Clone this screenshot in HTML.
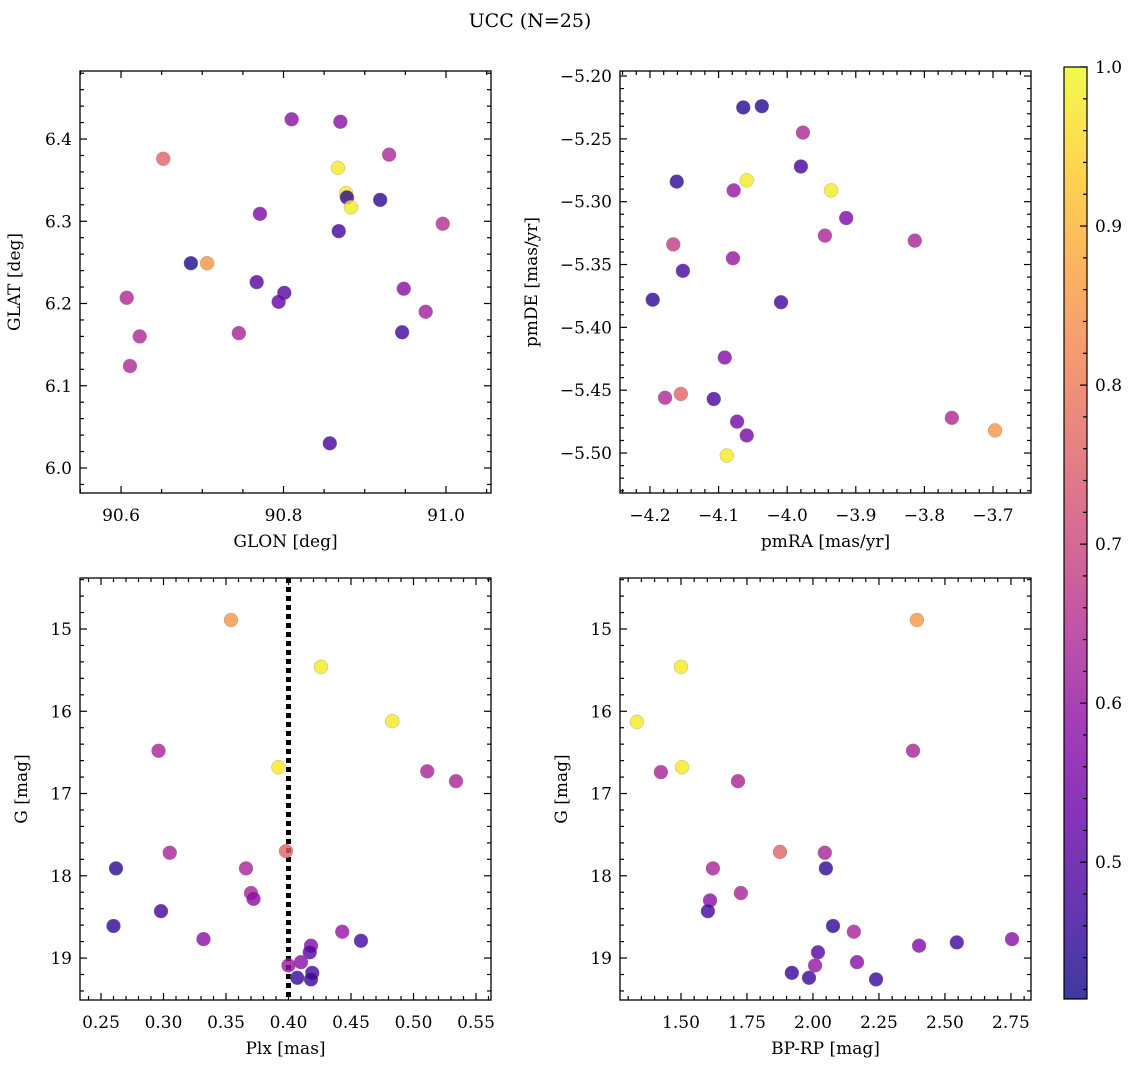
<!DOCTYPE html>
<html><head><meta charset="utf-8"><style>
body{margin:0;background:#fff;}
svg text{font-family:"DejaVu Serif","Liberation Serif",serif;fill:#000;}
</style></head><body>
<svg id="fig" width="1136" height="1067" xmlns="http://www.w3.org/2000/svg">
<defs>
<linearGradient id="plasma" x1="0" y1="1" x2="0" y2="0">
<stop offset="0" stop-color="#0d0887"/><stop offset="0.1" stop-color="#41049d"/><stop offset="0.2" stop-color="#6a00a8"/><stop offset="0.3" stop-color="#8f0da4"/><stop offset="0.4" stop-color="#b12a90"/><stop offset="0.5" stop-color="#cc4778"/><stop offset="0.6" stop-color="#e16462"/><stop offset="0.7" stop-color="#f2844b"/><stop offset="0.8" stop-color="#fca636"/><stop offset="0.9" stop-color="#fcce25"/><stop offset="1" stop-color="#f0f921"/>
</linearGradient>
</defs>
<text x="530" y="27" font-size="19" text-anchor="middle">UCC (N=25)</text>
</svg>
<script>
// Panel 1: GLON vs GLAT
const glon=[90.652,90.706,90.810,90.870,90.930,90.867,90.877,90.878,90.883,90.919,90.771,90.996,90.686,90.868,90.767,90.801,90.794,90.607,90.623,90.611,90.745,90.948,90.975,90.946,90.857];
const glat=[6.376,6.249,6.424,6.421,6.381,6.365,6.334,6.329,6.317,6.326,6.309,6.297,6.249,6.288,6.226,6.213,6.202,6.207,6.160,6.124,6.164,6.218,6.190,6.165,6.030];
const prob1=[0.76,0.85,0.58,0.58,0.64,0.98,0.98,0.45,0.98,0.45,0.56,0.65,0.43,0.48,0.5,0.5,0.53,0.64,0.64,0.64,0.63,0.58,0.62,0.47,0.48];
// Panel 2: pmRA vs pmDE
const pmra=[-4.064,-4.037,-3.977,-3.980,-4.161,-4.059,-3.936,-4.078,-3.914,-3.945,-4.166,-3.814,-4.152,-4.079,-4.196,-4.009,-4.091,-4.178,-4.155,-4.107,-4.073,-3.760,-3.697,-4.059,-4.088];
const pmde=[-5.225,-5.224,-5.245,-5.272,-5.284,-5.283,-5.291,-5.291,-5.313,-5.327,-5.334,-5.331,-5.355,-5.345,-5.378,-5.380,-5.424,-5.456,-5.453,-5.457,-5.475,-5.472,-5.482,-5.486,-5.502];
const prob2=[0.44,0.44,0.64,0.48,0.45,0.98,0.98,0.6,0.56,0.63,0.68,0.63,0.48,0.6,0.45,0.47,0.57,0.64,0.76,0.48,0.55,0.64,0.85,0.55,0.98];
// Panel 3: Plx vs G
const plx=[0.354,0.426,0.483,0.392,0.296,0.511,0.534,0.398,0.305,0.262,0.366,0.370,0.372,0.298,0.332,0.260,0.443,0.458,0.418,0.417,0.410,0.419,0.400,0.407,0.418];
const gmag3=[14.89,15.46,16.12,16.68,16.48,16.73,16.85,17.70,17.72,17.91,17.91,18.21,18.28,18.43,18.77,18.61,18.68,18.79,18.85,18.93,19.05,19.18,19.09,19.24,19.26];
const prob3=[0.85,0.98,0.98,0.98,0.63,0.63,0.63,0.76,0.63,0.45,0.63,0.63,0.58,0.48,0.58,0.45,0.6,0.47,0.57,0.5,0.58,0.48,0.6,0.46,0.46];
const plxCut=0.4;
// Panel 4: BP-RP vs G
const bprp=[2.394,1.500,1.333,1.504,1.424,1.716,2.379,1.875,2.045,2.049,1.621,1.727,1.610,1.602,2.155,2.076,2.754,2.545,2.402,2.019,2.167,2.008,1.920,1.985,2.239];
const gmag4=[14.89,15.46,16.13,16.68,16.74,16.85,16.48,17.71,17.72,17.91,17.91,18.21,18.30,18.43,18.68,18.61,18.77,18.81,18.85,18.93,19.05,19.09,19.18,19.24,19.26];
const prob4=[0.85,0.98,0.98,0.98,0.63,0.63,0.63,0.76,0.63,0.45,0.63,0.63,0.58,0.48,0.63,0.45,0.58,0.47,0.57,0.5,0.58,0.6,0.46,0.46,0.46];
const cbTicks=[0.5,0.6,0.7,0.8,0.9,1.0];

const NS='http://www.w3.org/2000/svg';
const svg=document.getElementById('fig');
function el(tag,attrs,parent){const e=document.createElementNS(NS,tag);for(const k in attrs)e.setAttribute(k,attrs[k]);(parent||svg).appendChild(e);return e;}
const stops=[[0,[13,8,135]],[0.1,[65,4,157]],[0.2,[106,0,168]],[0.3,[143,13,164]],[0.4,[177,42,144]],[0.5,[204,71,120]],[0.6,[225,100,98]],[0.7,[242,132,75]],[0.8,[252,166,54]],[0.9,[252,206,37]],[1,[240,249,33]]];
const CMIN=0.414,CMAX=1.0;
function cmap(v){let t=(v-CMIN)/(CMAX-CMIN);t=Math.max(0,Math.min(1,t));for(let i=0;i<stops.length-1;i++){const a=stops[i],b=stops[i+1];if(t<=b[0]){const f=(t-a[0])/(b[0]-a[0]);return 'rgb('+a[1].map((c,j)=>Math.round(c+(b[1][j]-c)*f)).join(',')+')';}}return 'rgb(240,249,33)';}
function fmt(v,d){return (v<0?'\u2212':'')+Math.abs(v).toFixed(d);}

function panel(o){
 const g=el('g',{});
 
 
 const sx=v=>o.x0+(v-o.xmin)/(o.xmax-o.xmin)*(o.x1-o.x0);
 const sy=o.yinv?(v=>o.y0+(v-o.ymin)/(o.ymax-o.ymin)*(o.y1-o.y0)):(v=>o.y1-(v-o.ymin)/(o.ymax-o.ymin)*(o.y1-o.y0));
 const eps=1e-9;
 for(let k=Math.ceil(o.xmin/o.xminor-eps);k*o.xminor<=o.xmax+eps;k++){const v=k*o.xminor;const px=sx(v);const isMaj=Math.abs(v/o.xmaj-Math.round(v/o.xmaj))<1e-6;const L=isMaj?7:4;
  el('line',{x1:px,x2:px,y1:o.y1,y2:o.y1-L,stroke:'#000','stroke-width':1.2},g);el('line',{x1:px,x2:px,y1:o.y0,y2:o.y0+L,stroke:'#000','stroke-width':1.2},g);
  if(isMaj){const t=el('text',{x:px,y:o.y1+28,'font-size':17,'text-anchor':'middle'},g);t.textContent=fmt(v,o.xd);}}
 for(let k=Math.ceil(o.ymin/o.yminor-eps);k*o.yminor<=o.ymax+eps;k++){const v=k*o.yminor;const py=sy(v);const isMaj=Math.abs(v/o.ymaj-Math.round(v/o.ymaj))<1e-6;const L=isMaj?7:4;
  el('line',{x1:o.x0,x2:o.x0+L,y1:py,y2:py,stroke:'#000','stroke-width':1.2},g);el('line',{x1:o.x1,x2:o.x1-L,y1:py,y2:py,stroke:'#000','stroke-width':1.2},g);
  if(isMaj){const t=el('text',{x:o.x0-8,y:py+6,'font-size':17,'text-anchor':'end'},g);t.textContent=fmt(v,o.yd);}}
 if(o.vline!==undefined){const l=el('line',{x1:sx(o.vline),x2:sx(o.vline),y1:o.y0,y2:o.y1,stroke:'#000','stroke-width':5,'stroke-dasharray':'5,4'},g);}
 for(let i=0;i<o.xs.length;i++){const c=el('circle',{cx:sx(o.xs[i]),cy:sy(o.ys[i]),r:7,fill:cmap(o.cs[i]),'fill-opacity':0.8,stroke:'#888','stroke-width':0.5,'stroke-opacity':0.6},g);
  
  }
 const fr=el('rect',{x:o.x0,y:o.y0,width:o.x1-o.x0,height:o.y1-o.y0,fill:'none',stroke:'#000','stroke-width':1.3},g);
 
 const xl=el('text',{x:(o.x0+o.x1)/2,y:o.y1+54,'font-size':17,'text-anchor':'middle'},g);xl.textContent=o.xlab;
 
 const yx=o.x0-o.ylo,yy=(o.y0+o.y1)/2;
 const yl=el('text',{x:yx,y:yy,'font-size':17,'text-anchor':'middle',transform:'rotate(-90 '+yx+' '+yy+')'},g);yl.textContent=o.ylab;
 
}
panel({name:'glon-glat-panel',x0:80,x1:491,y0:71,y1:493,xmin:90.5495,xmax:91.0554,ymin:5.9696,ymax:6.4827,xmaj:0.2,xminor:0.05,ymaj:0.1,yminor:0.02,xd:1,yd:1,xs:glon,ys:glat,cs:prob1,xlab:'GLON [deg]',ylab:'GLAT [deg]',ylo:60});
panel({name:'pm-panel',x0:620,x1:1031,y0:71,y1:493,xmin:-4.2437,xmax:-3.6446,ymin:-5.5318,ymax:-5.196,xmaj:0.1,xminor:0.02,ymaj:0.05,yminor:0.01,xd:1,yd:2,xs:pmra,ys:pmde,cs:prob2,xlab:'pmRA [mas/yr]',ylab:'pmDE [mas/yr]',ylo:83});
panel({name:'plx-g-panel',x0:80,x1:491,y0:578,y1:1000,xmin:0.2332,xmax:0.562,ymin:14.38,ymax:19.51,yinv:true,xmaj:0.05,xminor:0.01,ymaj:1,yminor:0.2,xd:2,yd:0,xs:plx,ys:gmag3,cs:prob3,xlab:'Plx [mas]',ylab:'G [mag]',ylo:53,vline:plxCut});
panel({name:'cmd-panel',x0:620,x1:1031,y0:578,y1:1000,xmin:1.269,xmax:2.826,ymin:14.38,ymax:19.51,yinv:true,xmaj:0.25,xminor:0.05,ymaj:1,yminor:0.2,xd:2,yd:0,xs:bprp,ys:gmag4,cs:prob4,xlab:'BP-RP [mag]',ylab:'G [mag]',ylo:53});
// colorbar
const cb=el('g',{});


const CX0=1064,CX1=1087,CY0=67,CY1=999;
el('rect',{x:CX0,y:CY0,width:CX1-CX0,height:CY1-CY0,fill:'url(#plasma)','fill-opacity':0.8},cb);
el('rect',{x:CX0,y:CY0,width:CX1-CX0,height:CY1-CY0,fill:'none',stroke:'#000','stroke-width':1.2},cb);
const cy=v=>CY1-(v-CMIN)/(CMAX-CMIN)*(CY1-CY0);
for(let k=21;k<=50;k++){const v=k*0.02;if(v<CMIN)continue;const py=cy(v);const maj=k%5===0;el('line',{x1:CX1,x2:CX1-(maj?7:4),y1:py,y2:py,stroke:'#000','stroke-width':1.2},cb);}
cbTicks.forEach(v=>{const t=el('text',{x:CX1+8,y:cy(v)+6,'font-size':17},cb);t.textContent=v.toFixed(1);
 
 });
</script>
</body></html>
